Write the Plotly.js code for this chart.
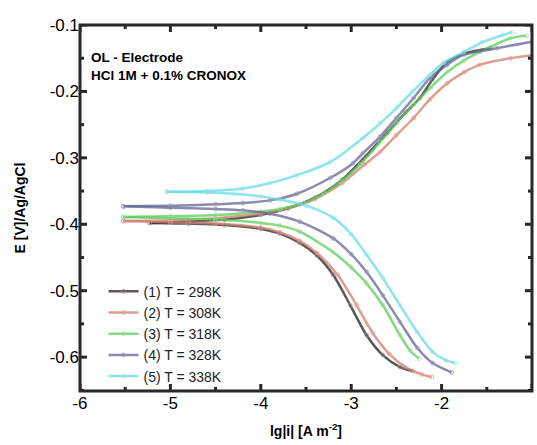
<!DOCTYPE html>
<html>
<head>
<meta charset="utf-8">
<script src="https://cdn.plot.ly/plotly-3.0.1.min.js"></script>
<style>html,body{margin:0;padding:0;background:#fff;}#chart{width:537px;height:445px;}</style>
</head>
<body>
<div id="chart"></div>
<script>
// Series names
const seriesNames = ["(1) T = 298K", "(2) T = 308K", "(3) T = 318K", "(4) T = 328K", "(5) T = 338K"];

// Anodic branches (lg|i|, E)
const anodicX1 = [-5.23, -4.8, -4.4, -4.0, -3.7, -3.4, -3.1, -2.87, -2.6, -2.4, -2.24, -2.1, -1.94, -1.75, -1.46];
const anodicY1 = [-0.398, -0.396, -0.393, -0.386, -0.376, -0.36, -0.333, -0.302, -0.262, -0.232, -0.21, -0.182, -0.156, -0.143, -0.135];
const anodicX2 = [-5.52, -5.0, -4.5, -4.0, -3.7, -3.4, -3.1, -2.85, -2.68, -2.5, -2.31, -2.13, -1.94, -1.75, -1.58, -1.24, -0.97];
const anodicY2 = [-0.395, -0.394, -0.391, -0.384, -0.376, -0.362, -0.338, -0.31, -0.291, -0.266, -0.24, -0.212, -0.188, -0.171, -0.16, -0.15, -0.145];
const anodicX3 = [-5.52, -5.0, -4.5, -4.0, -3.79, -3.53, -3.3, -3.12, -2.9, -2.68, -2.5, -2.31, -2.12, -1.94, -1.76, -1.58, -1.24, -1.06];
const anodicY3 = [-0.389, -0.388, -0.386, -0.381, -0.377, -0.368, -0.353, -0.336, -0.31, -0.276, -0.248, -0.22, -0.194, -0.171, -0.154, -0.141, -0.12, -0.116];
const anodicX4 = [-5.52, -5.0, -4.5, -4.2, -3.9, -3.6, -3.23, -2.98, -2.87, -2.68, -2.5, -2.31, -2.13, -1.94, -1.76, -1.39, -1.0];
const anodicY4 = [-0.373, -0.372, -0.37, -0.368, -0.364, -0.354, -0.33, -0.308, -0.293, -0.268, -0.24, -0.21, -0.18, -0.16, -0.145, -0.135, -0.125];
const anodicX5 = [-5.04, -4.6, -4.2, -3.9, -3.6, -3.23, -2.87, -2.68, -2.5, -2.32, -2.13, -1.98, -1.76, -1.55, -1.32, -1.22];
const anodicY5 = [-0.351, -0.35, -0.346, -0.338, -0.326, -0.306, -0.27, -0.248, -0.225, -0.2, -0.175, -0.157, -0.141, -0.126, -0.115, -0.111];

// Cathodic branches (lg|i|, E)
const cathodicX1 = [-5.23, -4.8, -4.4, -4.0, -3.79, -3.57, -3.38, -3.2, -3.01, -2.83, -2.65, -2.46, -2.32];
const cathodicY1 = [-0.398, -0.399, -0.401, -0.407, -0.414, -0.428, -0.447, -0.476, -0.522, -0.567, -0.597, -0.615, -0.621];
const cathodicX2 = [-5.52, -5.0, -4.5, -4.0, -3.79, -3.57, -3.38, -3.15, -2.94, -2.76, -2.58, -2.4, -2.22, -2.11];
const cathodicY2 = [-0.395, -0.397, -0.399, -0.405, -0.412, -0.425, -0.443, -0.476, -0.522, -0.564, -0.595, -0.615, -0.626, -0.63];
const cathodicX3 = [-5.52, -5.0, -4.5, -4.0, -3.79, -3.57, -3.2, -3.0, -2.83, -2.65, -2.46, -2.35, -2.25];
const cathodicY3 = [-0.389, -0.391, -0.393, -0.398, -0.402, -0.411, -0.442, -0.465, -0.489, -0.522, -0.567, -0.59, -0.602];
const cathodicX4 = [-5.52, -5.0, -4.5, -4.2, -3.9, -3.57, -3.2, -3.0, -2.83, -2.65, -2.46, -2.27, -2.1, -1.89];
const cathodicY4 = [-0.373, -0.375, -0.377, -0.379, -0.384, -0.396, -0.421, -0.445, -0.472, -0.507, -0.547, -0.586, -0.609, -0.623];
const cathodicX5 = [-5.04, -4.6, -4.3, -4.0, -3.79, -3.5, -3.2, -3.0, -2.83, -2.65, -2.46, -2.27, -2.1, -1.95, -1.85];
const cathodicY5 = [-0.351, -0.352, -0.354, -0.358, -0.363, -0.372, -0.39, -0.415, -0.446, -0.481, -0.522, -0.562, -0.592, -0.605, -0.609];

// Axis ticks
const xTickVals = [-6, -5, -4, -3, -2, -1];
const xTickText = ["-6", "-5", "-4", "-3", "-2", "-1"];
const yTickVals = [-0.6, -0.5, -0.4, -0.3, -0.2, -0.1];
const yTickText = ["-0.6", "-0.5", "-0.4", "-0.3", "-0.2", "-0.1"];
const xMinorTicks = [-5.5, -4.5, -3.5, -2.5, -1.5];
const yMinorTicks = [-0.65, -0.55, -0.45, -0.35, -0.25, -0.15];

const lineColors = ["rgba(55,45,45,0.8)", "rgba(210,125,110,0.75)", "rgba(90,205,90,0.75)", "rgba(100,100,150,0.75)", "rgba(100,220,225,0.75)"];
const markerColors = ["rgba(150,150,150,0.7)", "rgba(220,160,150,0.7)", "rgba(160,220,160,0.7)", "rgba(150,150,180,0.7)", "rgba(160,225,230,0.7)"];

const anodicX = [anodicX1, anodicX2, anodicX3, anodicX4, anodicX5];
const anodicY = [anodicY1, anodicY2, anodicY3, anodicY4, anodicY5];
const cathodicX = [cathodicX1, cathodicX2, cathodicX3, cathodicX4, cathodicX5];
const cathodicY = [cathodicY1, cathodicY2, cathodicY3, cathodicY4, cathodicY5];

const traces = [];
for (let i = 0; i < 5; i++) {
  traces.push({
    x: anodicX[i], y: anodicY[i], type: 'scatter', mode: 'lines+markers',
    name: seriesNames[i], legendgroup: 'g' + i, showlegend: true,
    line: {color: lineColors[i], width: 2.5, shape: 'spline', smoothing: 0.8},
    marker: {symbol: 'circle-open', size: 4, color: markerColors[i], line: {width: 1}}
  });
  traces.push({
    x: cathodicX[i], y: cathodicY[i], type: 'scatter', mode: 'lines+markers',
    name: seriesNames[i], legendgroup: 'g' + i, showlegend: false,
    line: {color: lineColors[i], width: 2.5, shape: 'spline', smoothing: 0.8},
    marker: {symbol: 'circle-open', size: 4, color: markerColors[i], line: {width: 1}}
  });
}

// Frame and tick marks built from the axis tick arrays (axis decorations, not data marks)
const frameColor = 'rgb(40,40,40)';
const shapes = [
  {type: 'rect', xref: 'paper', yref: 'paper', x0: 0, x1: 1, y0: 0, y1: 1,
   line: {color: frameColor, width: 3}, layer: 'above'}
];
function xTick(v, len) {
  const lenY = len / 366;
  shapes.push({type: 'line', xref: 'x', yref: 'paper', x0: v, x1: v, y0: 0, y1: lenY, line: {color: frameColor, width: 3}, layer: 'above'});
  shapes.push({type: 'line', xref: 'x', yref: 'paper', x0: v, x1: v, y0: 1, y1: 1 - lenY, line: {color: frameColor, width: 3}, layer: 'above'});
}
function yTick(v, len) {
  const lenX = len / 452;
  shapes.push({type: 'line', xref: 'paper', yref: 'y', x0: 0, x1: lenX, y0: v, y1: v, line: {color: frameColor, width: 3}, layer: 'above'});
  shapes.push({type: 'line', xref: 'paper', yref: 'y', x0: 1, x1: 1 - lenX, y0: v, y1: v, line: {color: frameColor, width: 3}, layer: 'above'});
}
xTickVals.forEach(v => xTick(v, 7));
xMinorTicks.forEach(v => xTick(v, 4));
yTickVals.forEach(v => yTick(v, 7));
yMinorTicks.forEach(v => yTick(v, 4));

const fontFam = 'Liberation Sans, Arial, sans-serif';
const axisCommon = {
  showline: false, ticks: '', showgrid: false, zeroline: false
};
const layout = {
  width: 537, height: 445,
  margin: {l: 80, r: 5, t: 25, b: 54},
  paper_bgcolor: 'white', plot_bgcolor: 'white',
  font: {family: fontFam, color: 'black'},
  showlegend: true,
  legend: {
    x: 0.052, y: 0.315, xanchor: 'left', yanchor: 'top',
    bgcolor: 'rgba(0,0,0,0)', font: {size: 14, family: fontFam, color: '#222'},
    tracegroupgap: 0, itemwidth: 30
  },
  xaxis: Object.assign({}, axisCommon, {
    range: [-6, -1], tickmode: 'array', tickvals: xTickVals, ticktext: xTickText,
    tickfont: {size: 17, family: fontFam, color: 'black'},
    title: {text: '<b>lg|i| [A m<sup>-2</sup>]</b>', font: {size: 14, family: fontFam, color: 'black'}, standoff: 14}
  }),
  yaxis: Object.assign({}, axisCommon, {
    range: [-0.651, -0.1], tickmode: 'array', tickvals: yTickVals, ticktext: yTickText,
    tickfont: {size: 17, family: fontFam, color: 'black'},
    title: {text: '<b>E [V]/Ag/AgCl</b>', font: {size: 14, family: fontFam, color: 'black'}, standoff: 20}
  }),
  shapes: shapes,
  annotations: [
    {xref: 'paper', yref: 'paper', x: 0.02, y: 0.91, xanchor: 'left', yanchor: 'middle', showarrow: false,
     text: '<b>OL - Electrode</b>', font: {size: 13.5, family: fontFam, color: 'black'}},
    {xref: 'paper', yref: 'paper', x: 0.02, y: 0.861, xanchor: 'left', yanchor: 'middle', showarrow: false,
     text: '<b>HCl 1M + 0.1% CRONOX</b>', font: {size: 13.5, family: fontFam, color: 'black'}}
  ]
};

Plotly.newPlot('chart', traces, layout, {displayModeBar: false});
</script>
</body>
</html>
